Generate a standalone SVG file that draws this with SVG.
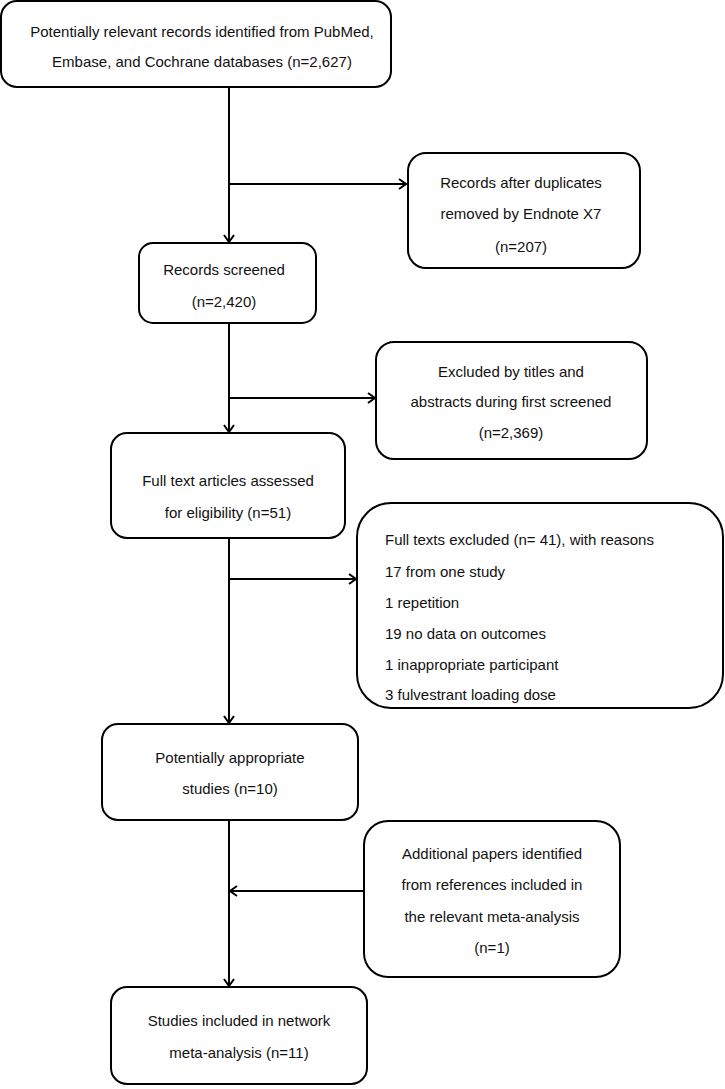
<svg xmlns="http://www.w3.org/2000/svg" width="725" height="1089" viewBox="0 0 725 1089">
<style>
.box{fill:#fff;stroke:#000;stroke-width:2}
.t{font-family:"Liberation Sans",Arial,sans-serif;font-size:15px;fill:#111;text-anchor:middle}
.l{text-anchor:start}
.c{fill:none;stroke:#000;stroke-width:2}
</style>
<defs>
<marker id="ah" markerUnits="userSpaceOnUse" markerWidth="12" markerHeight="14" refX="9" refY="6" orient="auto">
<path d="M2,1 L9,6 L2,11" fill="none" stroke="#000" stroke-width="2"/>
</marker>
</defs>
<rect width="725" height="1089" fill="#fff"/>
<g id="connectors">
<line class="c" x1="229" y1="87" x2="229" y2="242" marker-end="url(#ah)"/>
<line class="c" x1="229" y1="184" x2="406" y2="184" marker-end="url(#ah)"/>
<line class="c" x1="229" y1="323" x2="229" y2="432" marker-end="url(#ah)"/>
<line class="c" x1="229" y1="398" x2="375" y2="398" marker-end="url(#ah)"/>
<line class="c" x1="229" y1="538" x2="229" y2="723" marker-end="url(#ah)"/>
<line class="c" x1="229" y1="579" x2="356" y2="579" marker-end="url(#ah)"/>
<line class="c" x1="229" y1="820" x2="229" y2="986" marker-end="url(#ah)"/>
<line class="c" x1="364" y1="891" x2="230" y2="891" marker-end="url(#ah)"/>
</g>
<g id="n1">
<rect class="box" x="1" y="1" width="390" height="86" rx="16"/>
<text class="t" x="202" y="37">Potentially relevant records identified from PubMed,</text>
<text class="t" x="202" y="67">Embase, and Cochrane databases (n=2,627)</text>
</g>
<g id="n2">
<rect class="box" x="408" y="153" width="232" height="115" rx="18"/>
<text class="t" x="521" y="188">Records after duplicates</text>
<text class="t" x="521" y="219">removed by Endnote X7</text>
<text class="t" x="521" y="252">(n=207)</text>
</g>
<g id="n3">
<rect class="box" x="139" y="243" width="177" height="80" rx="14"/>
<text class="t" x="224" y="275">Records screened</text>
<text class="t" x="224" y="307">(n=2,420)</text>
</g>
<g id="n4">
<rect class="box" x="376" y="342" width="271" height="117" rx="18"/>
<text class="t" x="511" y="377">Excluded by titles and</text>
<text class="t" x="511" y="407">abstracts during first screened</text>
<text class="t" x="511" y="438">(n=2,369)</text>
</g>
<g id="n5">
<rect class="box" x="111" y="433" width="234" height="105" rx="16"/>
<text class="t" x="228" y="486">Full text articles assessed</text>
<text class="t" x="228" y="518">for eligibility (n=51)</text>
</g>
<g id="n6">
<rect class="box" x="357" y="503" width="366" height="205" rx="34"/>
<text class="t l" x="385" y="545">Full texts excluded (n= 41), with reasons</text>
<text class="t l" x="385" y="577">17 from one study</text>
<text class="t l" x="385" y="608">1 repetition</text>
<text class="t l" x="385" y="639">19 no data on outcomes</text>
<text class="t l" x="385" y="670">1 inappropriate participant</text>
<text class="t l" x="385" y="700">3 fulvestrant loading dose</text>
</g>
<g id="n7">
<rect class="box" x="102" y="724" width="256" height="96" rx="16"/>
<text class="t" x="230" y="763">Potentially appropriate</text>
<text class="t" x="230" y="794">studies (n=10)</text>
</g>
<g id="n8">
<rect class="box" x="364" y="821" width="256" height="156" rx="24"/>
<text class="t" x="492" y="859">Additional papers identified</text>
<text class="t" x="492" y="890">from references included in</text>
<text class="t" x="492" y="922">the relevant meta-analysis</text>
<text class="t" x="492" y="953">(n=1)</text>
</g>
<g id="n9">
<rect class="box" x="111" y="987" width="256" height="97" rx="16"/>
<text class="t" x="239" y="1026">Studies included in network</text>
<text class="t" x="239" y="1058">meta-analysis (n=11)</text>
</g>
</svg>
